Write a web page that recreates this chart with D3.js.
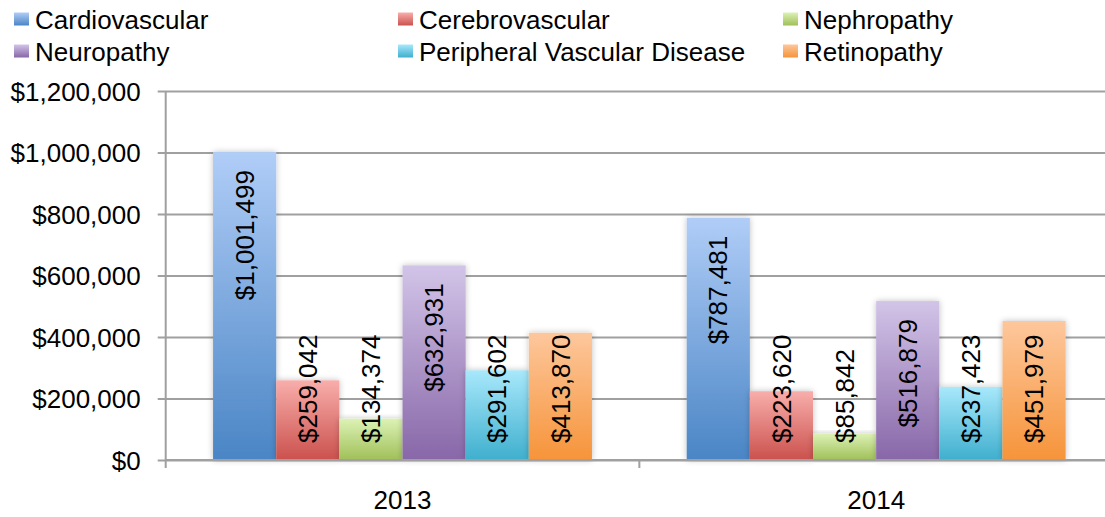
<!DOCTYPE html>
<html>
<head>
<meta charset="utf-8">
<script src="https://cdn.jsdelivr.net/npm/d3@7"></script>
<style>
  html, body { margin: 0; padding: 0; background: #fff; }
  svg { display: block; font-family: "Liberation Sans", Arial, sans-serif; }
</style>
</head>
<body>
<div id="chart"></div>
<script>
// data
const years = ["2013", "2014"];
const series = ["Cardiovascular", "Cerebrovascular", "Nephropathy", "Neuropathy", "Peripheral Vascular Disease", "Retinopathy"];
const values2013 = [1001499, 259042, 134374, 632931, 291602, 413870];
const values2014 = [787481, 223620, 85842, 516879, 237423, 451979];
const yTicks = [0, 200000, 400000, 600000, 800000, 1000000, 1200000];

// gradient top / bottom per series
const colorTop = ["#b0cdf7", "#f8aeab", "#dcf2b5", "#d2c4e8", "#a8e8fb", "#fdc79c"];
const colorBottom = ["#4a85c5", "#cb514d", "#a0c059", "#8867a8", "#3fafce", "#f6943a"];

const rows = years.map((yr, i) => ({ year: yr, values: [values2013, values2014][i] }));

const width = 1105, height = 517;
const plotLeft = 165.7, plotRight = 1113, plotTop = 91, plotBottom = 460;

const svg = d3.select("#chart").append("svg")
  .attr("width", width).attr("height", height);

const defs = svg.append("defs");
series.forEach((s, i) => {
  const gr = defs.append("linearGradient")
    .attr("id", "grad" + i)
    .attr("x1", 0).attr("y1", 0).attr("x2", 0).attr("y2", 1);
  gr.append("stop").attr("offset", "0%").attr("stop-color", colorTop[i]);
  gr.append("stop").attr("offset", "100%").attr("stop-color", colorBottom[i]);
});

let shadow = defs.append("filter").attr("id", "shadow")
  .attr("x", "-20%").attr("y", "-10%").attr("width", "140%").attr("height", "120%");
shadow.append("feGaussianBlur").attr("in", "SourceAlpha").attr("stdDeviation", 3).attr("result", "blur");
shadow.append("feComponentTransfer").attr("in", "blur").attr("result", "soft")
  .append("feFuncA").attr("type", "linear").attr("slope", 0.25);
let merge = shadow.append("feMerge");
merge.append("feMergeNode").attr("in", "soft");
merge.append("feMergeNode").attr("in", "SourceGraphic");

const x0 = d3.scaleBand().domain(years).range([plotLeft, plotRight]).paddingInner(0).paddingOuter(0);
const x1 = d3.scaleBand().domain(d3.range(series.length)).range([0, x0.bandwidth()]).paddingOuter(0.75).paddingInner(0);
const y = d3.scaleLinear().domain([0, 1200000]).range([plotBottom, plotTop]);

const fmt = d3.format("$,");

// y axis with gridlines
const yAxis = svg.append("g")
  .attr("transform", `translate(${plotLeft},0)`)
  .call(d3.axisLeft(y).tickValues(yTicks).tickFormat(fmt).tickSize(0).tickPadding(25));
yAxis.select(".domain").remove();
yAxis.selectAll(".tick line")
  .attr("x1", -8).attr("x2", plotRight - plotLeft)
  .attr("stroke", "#a0a0a0").attr("stroke-width", 2);
yAxis.selectAll(".tick text")
  .attr("font-size", 26).attr("fill", "#000")
  .attr("font-family", "Liberation Sans, Arial, sans-serif")
  .attr("dy", "0.36em");

// bars
const groups = svg.append("g").selectAll("g")
  .data(rows).join("g")
  .attr("transform", d => `translate(${x0(d.year)},0)`);

groups.selectAll("rect")
  .data(d => d.values.map((v, i) => ({ v, i })))
  .join("rect")
  .attr("x", d => x1(d.i))
  .attr("width", x1.bandwidth())
  .attr("y", d => y(d.v))
  .attr("height", d => y(0) - y(d.v))
  .attr("fill", d => `url(#grad${d.i})`)
  .style("filter", "url(#shadow)");

// x axis line and category ticks
const xAxis = svg.append("g");
xAxis.append("line")
  .attr("x1", plotLeft).attr("x2", plotRight)
  .attr("y1", y(0)).attr("y2", y(0))
  .attr("stroke", "#a0a0a0").attr("stroke-width", 2);
xAxis.append("line")
  .attr("x1", plotLeft).attr("x2", plotLeft)
  .attr("y1", plotTop).attr("y2", y(0) + 8)
  .attr("stroke", "#a0a0a0").attr("stroke-width", 2);
xAxis.selectAll("line.cat")
  .data(years)
  .join("line").attr("class", "cat")
  .attr("x1", d => x0(d) + x0.bandwidth()).attr("x2", d => x0(d) + x0.bandwidth())
  .attr("y1", y(0)).attr("y2", y(0) + 8)
  .attr("stroke", "#a0a0a0").attr("stroke-width", 2);
xAxis.selectAll("text")
  .data(years)
  .join("text")
  .attr("x", d => x0(d) + x0.bandwidth() / 2)
  .attr("y", 509)
  .attr("text-anchor", "middle")
  .attr("font-size", 26)
  .text(d => d);

// value labels, rotated
groups.selectAll("text.val")
  .data(d => d.values.map((v, i) => ({ v, i })))
  .join("text").attr("class", "val")
  .attr("font-size", 26)
  .attr("fill", "#000")
  .attr("dy", "0.35em")
  .text(d => fmt(d.v))
  .each(function(d) {
    const len = this.getComputedTextLength();
    const cx = x1(d.i) + x1.bandwidth() / 2;
    const bottom = Math.min(y(d.v) + 18 + len, y(0) - 17);
    d3.select(this).attr("transform", `translate(${cx},${bottom}) rotate(-90)`);
  });

// legend, 3 columns x 2 rows
const legX = [14, 398, 783];
const legY = [12.5, 44.5];
const legend = svg.append("g").selectAll("g")
  .data(series)
  .join("g")
  .attr("transform", (d, i) => `translate(${legX[i % 3]},${legY[Math.floor(i / 3)]})`);
legend.append("rect")
  .attr("width", 15).attr("height", 13)
  .attr("fill", (d, i) => `url(#grad${i})`);
legend.append("text")
  .attr("x", 21).attr("y", 16)
  .attr("font-size", 26)
  .text(d => d);
</script>
</body>
</html>
